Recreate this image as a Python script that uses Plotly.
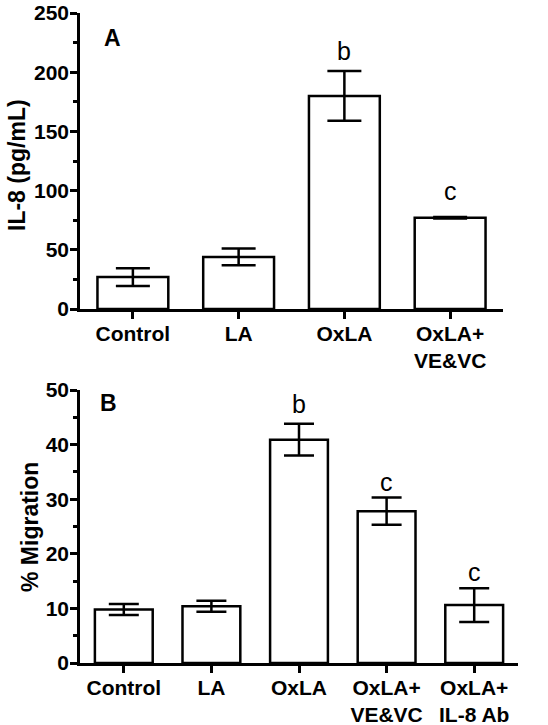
import plotly.graph_objects as go

# Panel A data
cats_a = ["Control", "LA", "OxLA", "OxLA+<br>VE&VC"]
il8_mean = [27, 44, 180, 77]
il8_err = [7.5, 7, 21, 0.6]
letters_a = ["", "", "b", "c"]

# Panel B data
cats_b = ["Control", "LA", "OxLA", "OxLA+<br>VE&VC", "OxLA+<br>IL-8 Ab"]
mig_mean = [9.8, 10.4, 40.9, 27.8, 10.6]
mig_err = [1.0, 1.0, 2.9, 2.5, 3.1]
letters_b = ["", "", "b", "c", "c"]

W, H = 548, 725
FONT = "Liberation Sans, Arial, sans-serif"
LW = 2.5

def px_x(p):
    return p / W

def px_y(p):
    return (H - p) / H

fig = go.Figure()

fig.add_trace(go.Bar(
    x=cats_a, y=il8_mean, xaxis="x", yaxis="y", width=0.67,
    marker=dict(color="white", line=dict(color="black", width=LW)),
    error_y=dict(type="data", array=il8_err, color="black", thickness=LW, width=17),
    showlegend=False, hoverinfo="skip",
))
fig.add_trace(go.Bar(
    x=cats_b, y=mig_mean, xaxis="x2", yaxis="y2", width=0.66,
    marker=dict(color="white", line=dict(color="black", width=LW)),
    error_y=dict(type="data", array=mig_err, color="black", thickness=LW, width=15),
    showlegend=False, hoverinfo="skip",
))

tickfont = dict(family=FONT, size=21, color="black", weight="bold")
common_x = dict(type="category", showline=True, linecolor="black", linewidth=LW,
                ticks="outside", ticklen=7, tickwidth=LW, tickcolor="black",
                tickfont=tickfont, showgrid=False, zeroline=False, fixedrange=True,
                ticklabelstandoff=-3)
common_y = dict(showline=True, linecolor="black", linewidth=LW,
                ticks="outside", ticklen=7, tickwidth=LW, tickcolor="black",
                tickfont=tickfont, showgrid=False, zeroline=False, automargin=False,
                fixedrange=True, ticklabelstandoff=-3)

fig.update_layout(
    width=W, height=H,
    margin=dict(l=0, r=0, t=0, b=0),
    paper_bgcolor="white", plot_bgcolor="white",
    xaxis=dict(common_x, domain=[px_x(80), px_x(503)], anchor="y", range=[-0.5, 3.5]),
    yaxis=dict(common_y, domain=[px_y(309), px_y(13)], anchor="x", range=[0, 250],
               dtick=50, minor=dict(dtick=25, ticks="outside", ticklen=4, tickwidth=LW, tickcolor="black")),
    xaxis2=dict(common_x, domain=[px_x(80), px_x(518)], anchor="y2", range=[-0.5, 4.5]),
    yaxis2=dict(common_y, domain=[px_y(663), px_y(390)], anchor="x2", range=[0, 50],
                dtick=10, minor=dict(dtick=5, ticks="outside", ticklen=4, tickwidth=LW, tickcolor="black")),
)

ann = []
# axis titles
ann.append(dict(text="IL-8 (pg/mL)", x=px_x(17), y=px_y(165),
                xref="paper", yref="paper", xanchor="center", yanchor="middle",
                textangle=-90, showarrow=False,
                font=dict(family=FONT, size=23, color="black", weight="bold")))
ann.append(dict(text="% Migration", x=px_x(30), y=px_y(527),
                xref="paper", yref="paper", xanchor="center", yanchor="middle",
                textangle=-90, showarrow=False,
                font=dict(family=FONT, size=23, color="black", weight="bold")))
# panel labels
ann.append(dict(text="A", x=px_x(112), y=px_y(38), xref="paper", yref="paper",
                xanchor="center", yanchor="middle", showarrow=False,
                font=dict(family=FONT, size=23, color="black", weight="bold")))
ann.append(dict(text="B", x=px_x(108), y=px_y(403), xref="paper", yref="paper",
                xanchor="center", yanchor="middle", showarrow=False,
                font=dict(family=FONT, size=23, color="black", weight="bold")))
# significance letters
shifts_a = [0, 0, 4, 10]
for c, m, e, l, s in zip(cats_a, il8_mean, il8_err, letters_a, shifts_a):
    if l:
        ann.append(dict(text=l, x=c, y=m + e, xref="x", yref="y", yanchor="bottom",
                        yshift=s, showarrow=False, font=dict(family=FONT, size=25, color="black")))
shifts_b = [0, 0, 4, 0, 0]
for c, m, e, l, s in zip(cats_b, mig_mean, mig_err, letters_b, shifts_b):
    if l:
        ann.append(dict(text=l, x=c, y=m + e, xref="x2", yref="y2", yanchor="bottom",
                        yshift=s, showarrow=False, font=dict(family=FONT, size=25, color="black")))
fig.update_layout(annotations=ann)

fig.write_html("out.html", config={"displayModeBar": False},
               post_script="document.body.style.margin='0';")
